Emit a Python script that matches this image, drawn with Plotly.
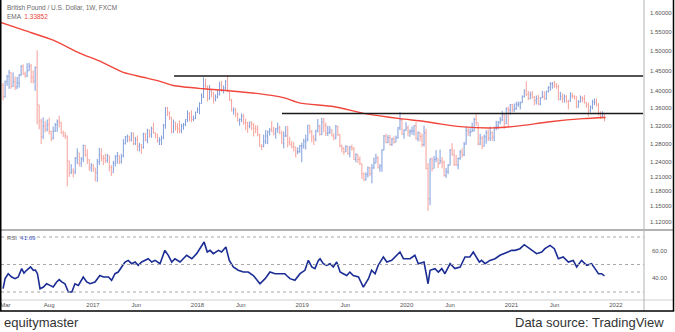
import pandas as pd
import plotly.graph_objects as go

# ---------------- data ----------------
first_week = "2016-02-22"
first_open = 1.414

# weekly (high, low, close)
hlc_2016 = [
    (1.420, 1.379, 1.387), (1.426, 1.385, 1.423), (1.440, 1.413, 1.436), (1.452, 1.406, 1.446),
    (1.443, 1.406, 1.412), (1.446, 1.411, 1.423), (1.436, 1.403, 1.411), (1.435, 1.405, 1.420),
    (1.442, 1.409, 1.440), (1.464, 1.437, 1.461), (1.466, 1.440, 1.443), (1.448, 1.433, 1.437),
    (1.469, 1.435, 1.450), (1.470, 1.453, 1.462), (1.467, 1.420, 1.434), (1.451, 1.419, 1.425),
    (1.461, 1.401, 1.458), (1.502, 1.323, 1.368), (1.354, 1.312, 1.330), (1.336, 1.279, 1.295),
    (1.339, 1.290, 1.319), (1.330, 1.305, 1.312), (1.334, 1.307, 1.322), (1.338, 1.300, 1.307),
    (1.309, 1.285, 1.292), (1.318, 1.289, 1.308), (1.326, 1.306, 1.323), (1.334, 1.306, 1.330),
    (1.343, 1.316, 1.327), (1.329, 1.302, 1.304), (1.309, 1.295, 1.297), (1.306, 1.290, 1.297),
    (1.298, 1.190, 1.243), (1.242, 1.209, 1.218), (1.236, 1.215, 1.222), (1.227, 1.208, 1.219),
    (1.251, 1.215, 1.249), (1.270, 1.236, 1.260), (1.254, 1.231, 1.238), (1.251, 1.230, 1.247),
    (1.278, 1.240, 1.276), (1.277, 1.252, 1.256), (1.268, 1.236, 1.245), (1.247, 1.222, 1.228),
    (1.238, 1.220, 1.234),
]
hlc_2017 = [
    (1.236, 1.220, 1.228), (1.228, 1.200, 1.218), (1.247, 1.199, 1.241), (1.271, 1.234, 1.255),
    (1.270, 1.242, 1.249), (1.255, 1.234, 1.248), (1.258, 1.238, 1.244), (1.258, 1.239, 1.254),
    (1.251, 1.221, 1.229), (1.234, 1.211, 1.218), (1.243, 1.219, 1.238), (1.255, 1.231, 1.252),
    (1.262, 1.237, 1.255), (1.253, 1.236, 1.241), (1.258, 1.237, 1.253), (1.290, 1.250, 1.280),
    (1.297, 1.278, 1.295), (1.300, 1.283, 1.297), (1.297, 1.284, 1.288), (1.305, 1.285, 1.304),
    (1.304, 1.277, 1.280), (1.295, 1.277, 1.289), (1.298, 1.264, 1.274), (1.282, 1.263, 1.278),
    (1.279, 1.258, 1.272), (1.304, 1.269, 1.302), (1.304, 1.285, 1.288), (1.313, 1.281, 1.310),
    (1.311, 1.293, 1.300), (1.318, 1.293, 1.313), (1.327, 1.302, 1.304), (1.305, 1.292, 1.301),
    (1.294, 1.282, 1.287), (1.294, 1.277, 1.288), (1.298, 1.277, 1.292), (1.324, 1.290, 1.321),
    (1.362, 1.313, 1.361), (1.363, 1.342, 1.349), (1.353, 1.333, 1.339), (1.340, 1.303, 1.306),
    (1.334, 1.304, 1.328), (1.327, 1.309, 1.318), (1.325, 1.303, 1.313), (1.332, 1.303, 1.308),
    (1.324, 1.303, 1.320), (1.326, 1.311, 1.322), (1.335, 1.319, 1.334), (1.355, 1.328, 1.348),
    (1.351, 1.330, 1.339), (1.355, 1.328, 1.334), (1.343, 1.330, 1.336), (1.352, 1.335, 1.351),
]
hlc_2018 = [
    (1.362, 1.349, 1.357), (1.374, 1.346, 1.371), (1.395, 1.370, 1.386), (1.434, 1.384, 1.415),
    (1.430, 1.406, 1.413), (1.413, 1.376, 1.383), (1.415, 1.380, 1.401), (1.404, 1.386, 1.397),
    (1.398, 1.371, 1.381), (1.393, 1.376, 1.386), (1.404, 1.383, 1.393), (1.423, 1.390, 1.415),
    (1.425, 1.399, 1.401), (1.414, 1.395, 1.408), (1.427, 1.404, 1.424), (1.438, 1.398, 1.401),
    (1.404, 1.377, 1.378), (1.382, 1.353, 1.354), (1.362, 1.345, 1.356), (1.361, 1.339, 1.347),
    (1.350, 1.330, 1.331), (1.337, 1.320, 1.334), (1.348, 1.328, 1.342), (1.347, 1.322, 1.327),
    (1.336, 1.310, 1.327), (1.329, 1.304, 1.319), (1.329, 1.314, 1.328), (1.330, 1.310, 1.323),
    (1.326, 1.296, 1.314), (1.321, 1.303, 1.312), (1.321, 1.296, 1.300), (1.302, 1.273, 1.275),
    (1.279, 1.266, 1.274), (1.300, 1.272, 1.285), (1.310, 1.279, 1.297), (1.309, 1.279, 1.307),
    (1.315, 1.298, 1.311), (1.330, 1.306, 1.308), (1.318, 1.298, 1.303), (1.315, 1.291, 1.313),
    (1.327, 1.304, 1.315), (1.320, 1.301, 1.303), (1.309, 1.280, 1.281), (1.307, 1.270, 1.297),
    (1.319, 1.295, 1.297), (1.320, 1.272, 1.283), (1.295, 1.276, 1.279), (1.286, 1.270, 1.273),
    (1.284, 1.263, 1.273), (1.265, 1.250, 1.262), (1.272, 1.257, 1.263), (1.277, 1.260, 1.275),
    (1.282, 1.240, 1.275),
]
hlc_2019 = [
    (1.291, 1.269, 1.284), (1.300, 1.267, 1.288), (1.322, 1.285, 1.321), (1.321, 1.302, 1.307),
    (1.310, 1.283, 1.294), (1.299, 1.277, 1.289), (1.311, 1.285, 1.308), (1.335, 1.305, 1.319),
    (1.322, 1.298, 1.300), (1.338, 1.299, 1.328), (1.338, 1.305, 1.321), (1.327, 1.297, 1.303),
    (1.320, 1.297, 1.305), (1.319, 1.301, 1.310), (1.312, 1.296, 1.297), (1.303, 1.287, 1.292),
    (1.322, 1.290, 1.318), (1.320, 1.297, 1.300), (1.301, 1.272, 1.275), (1.278, 1.261, 1.270),
    (1.272, 1.256, 1.262), (1.277, 1.262, 1.274), (1.275, 1.256, 1.259), (1.275, 1.250, 1.273),
    (1.278, 1.265, 1.269), (1.273, 1.245, 1.246), (1.259, 1.240, 1.257), (1.256, 1.238, 1.246),
    (1.252, 1.234, 1.237), (1.237, 1.205, 1.216), (1.218, 1.201, 1.203), (1.219, 1.202, 1.214),
    (1.231, 1.208, 1.228), (1.230, 1.211, 1.216), (1.236, 1.196, 1.228), (1.250, 1.226, 1.238),
    (1.258, 1.240, 1.249), (1.253, 1.227, 1.228), (1.236, 1.220, 1.232), (1.268, 1.220, 1.266),
    (1.299, 1.269, 1.297), (1.302, 1.281, 1.283), (1.299, 1.281, 1.293), (1.299, 1.276, 1.278),
    (1.293, 1.275, 1.290), (1.296, 1.280, 1.283), (1.298, 1.283, 1.293), (1.317, 1.291, 1.315),
    (1.351, 1.310, 1.333), (1.337, 1.300, 1.301), (1.312, 1.291, 1.310), (1.328, 1.308, 1.315),
]
hlc_2020 = [
    (1.320, 1.296, 1.306), (1.312, 1.295, 1.308), (1.318, 1.300, 1.308), (1.321, 1.298, 1.320),
    (1.328, 1.289, 1.291), (1.307, 1.285, 1.305), (1.304, 1.285, 1.296), (1.302, 1.273, 1.278),
    (1.320, 1.274, 1.304), (1.313, 1.225, 1.227), (1.238, 1.141, 1.165), (1.248, 1.152, 1.247),
    (1.250, 1.221, 1.227), (1.253, 1.227, 1.246), (1.266, 1.240, 1.248), (1.244, 1.228, 1.237),
    (1.267, 1.239, 1.243), (1.251, 1.227, 1.240), (1.243, 1.210, 1.212), (1.228, 1.207, 1.220),
    (1.236, 1.215, 1.234), (1.268, 1.233, 1.266), (1.281, 1.254, 1.256), (1.268, 1.232, 1.235),
    (1.256, 1.233, 1.234), (1.250, 1.225, 1.248), (1.266, 1.245, 1.262), (1.270, 1.250, 1.256),
    (1.284, 1.253, 1.279), (1.317, 1.278, 1.309), (1.315, 1.297, 1.305), (1.314, 1.296, 1.306),
    (1.327, 1.307, 1.309), (1.338, 1.307, 1.334), (1.348, 1.320, 1.327), (1.327, 1.276, 1.279),
    (1.302, 1.277, 1.292), (1.297, 1.268, 1.274), (1.300, 1.276, 1.295), (1.310, 1.280, 1.304),
    (1.311, 1.286, 1.292), (1.318, 1.286, 1.304), (1.307, 1.286, 1.294), (1.318, 1.285, 1.315),
    (1.331, 1.310, 1.319), (1.331, 1.312, 1.328), (1.340, 1.323, 1.333), (1.354, 1.330, 1.344),
    (1.348, 1.313, 1.324), (1.362, 1.324, 1.359), (1.364, 1.319, 1.356), (1.370, 1.345, 1.368),
]
hlc_2021 = [
    (1.370, 1.351, 1.357), (1.371, 1.351, 1.359), (1.375, 1.356, 1.369), (1.376, 1.363, 1.370),
    (1.376, 1.357, 1.373), (1.390, 1.372, 1.388), (1.405, 1.385, 1.401), (1.424, 1.389, 1.393),
    (1.401, 1.379, 1.383), (1.399, 1.381, 1.392), (1.401, 1.383, 1.386), (1.389, 1.367, 1.378),
    (1.390, 1.369, 1.383), (1.392, 1.367, 1.370), (1.386, 1.367, 1.384), (1.401, 1.384, 1.387),
    (1.400, 1.380, 1.382), (1.401, 1.380, 1.400), (1.412, 1.397, 1.409), (1.422, 1.401, 1.418),
    (1.422, 1.406, 1.420), (1.425, 1.408, 1.415), (1.420, 1.406, 1.411), (1.416, 1.379, 1.380),
    (1.399, 1.379, 1.388), (1.395, 1.373, 1.383), (1.393, 1.373, 1.388), (1.391, 1.373, 1.376),
    (1.380, 1.357, 1.376), (1.398, 1.375, 1.389), (1.396, 1.383, 1.388), (1.391, 1.380, 1.387),
    (1.388, 1.360, 1.362), (1.379, 1.362, 1.375), (1.390, 1.373, 1.384), (1.388, 1.374, 1.383),
    (1.391, 1.371, 1.373), (1.375, 1.361, 1.368), (1.373, 1.341, 1.354), (1.367, 1.350, 1.362),
    (1.380, 1.357, 1.374), (1.383, 1.367, 1.375), (1.383, 1.364, 1.368), (1.372, 1.343, 1.349),
    (1.353, 1.335, 1.341), (1.353, 1.339, 1.345), (1.346, 1.330, 1.333),
]

ema_dates = ["2016-02-11", "2016-05-09", "2016-08-15", "2016-11-17", "2017-01-25", "2017-04-17",
             "2017-06-26", "2017-08-23", "2017-10-08", "2018-01-21", "2018-04-24", "2018-07-27",
             "2018-10-28", "2018-12-25", "2019-04-20", "2019-08-15", "2019-12-09", "2020-02-28",
             "2020-04-27", "2020-07-06", "2020-10-30", "2021-01-20", "2021-05-16", "2021-09-09",
             "2021-11-26"]
ema_values = [1.576, 1.553, 1.528, 1.494, 1.474, 1.446, 1.434, 1.424, 1.414, 1.406, 1.401, 1.395,
              1.385, 1.372, 1.364, 1.347, 1.336, 1.330, 1.324, 1.318, 1.315, 1.319, 1.329, 1.336,
              1.3385]

rsi_dates = [
    "2016-02-22", "2016-02-29", "2016-03-11", "2016-03-23", "2016-04-04", "2016-04-15", "2016-04-27",
    "2016-05-05", "2016-05-14", "2016-05-28", "2016-06-07", "2016-06-14", "2016-06-21", "2016-06-30",
    "2016-07-12", "2016-07-23", "2016-08-04", "2016-08-15", "2016-08-27", "2016-09-05", "2016-09-14",
    "2016-09-25", "2016-10-07", "2016-10-19", "2016-10-30", "2016-11-11", "2016-11-28", "2016-12-10",
    "2016-12-22", "2017-01-08", "2017-01-25", "2017-02-06", "2017-02-24", "2017-03-07", "2017-03-19",
    "2017-03-30", "2017-04-11", "2017-04-23", "2017-05-04", "2017-05-16", "2017-05-28", "2017-06-08",
    "2017-06-20", "2017-07-02", "2017-07-13", "2017-07-25", "2017-08-06", "2017-08-23", "2017-09-09",
    "2017-09-21", "2017-10-03", "2017-10-14", "2017-11-01", "2017-11-24", "2017-12-12", "2017-12-29",
    "2018-01-10", "2018-01-24", "2018-02-04", "2018-02-14", "2018-02-25", "2018-03-15", "2018-03-26",
    "2018-04-10", "2018-04-22", "2018-05-06", "2018-05-23", "2018-06-10", "2018-06-27", "2018-07-15",
    "2018-08-07", "2018-08-25", "2018-09-11", "2018-09-29", "2018-10-16", "2018-11-02", "2018-11-08",
    "2018-11-20", "2018-12-07", "2018-12-25", "2019-01-11", "2019-01-23", "2019-02-04", "2019-02-15",
    "2019-02-27", "2019-03-05", "2019-03-16", "2019-03-28", "2019-04-09", "2019-04-20", "2019-05-02",
    "2019-05-14", "2019-05-25", "2019-06-06", "2019-06-17", "2019-06-29", "2019-07-17", "2019-08-03",
    "2019-08-21", "2019-09-01", "2019-09-13", "2019-09-24", "2019-10-12", "2019-10-24", "2019-11-10",
    "2019-11-27", "2019-12-09", "2019-12-21", "2020-01-13", "2020-01-30", "2020-02-11", "2020-03-02",
    "2020-03-16", "2020-03-23", "2020-04-09", "2020-04-21", "2020-05-03", "2020-05-14", "2020-06-01",
    "2020-06-18", "2020-07-06", "2020-07-23", "2020-08-09", "2020-08-21", "2020-09-11", "2020-09-19",
    "2020-10-01", "2020-10-18", "2020-11-05", "2020-11-22", "2020-12-04", "2020-12-21", "2021-01-02",
    "2021-01-14", "2021-01-31", "2021-02-15", "2021-03-07", "2021-03-30", "2021-04-17", "2021-04-28",
    "2021-05-16", "2021-05-31", "2021-06-14", "2021-07-01", "2021-07-19", "2021-08-05", "2021-08-17",
    "2021-09-03", "2021-09-21", "2021-10-08", "2021-10-20", "2021-11-01", "2021-11-12", "2021-11-22",
]
rsi_values = [
    32.4, 39.7, 43.3, 40.9, 39.7, 40.9, 47.0,
    43.8, 45.8, 48.2, 45.8, 46.0, 43.3, 32.4,
    33.6, 36.0, 34.8, 33.6, 37.3, 39.0, 37.3,
    36.0, 30.0, 30.0, 36.0, 34.8, 40.9, 37.3,
    36.0, 37.3, 42.0, 40.9, 40.9, 38.5, 43.3,
    44.5, 48.2, 51.8, 53.0, 50.6, 51.8, 49.4,
    51.8, 53.0, 54.2, 51.8, 53.0, 50.6, 60.3,
    56.7, 51.8, 54.2, 51.8, 56.7, 54.2, 57.9,
    61.5, 66.4, 59.1, 60.3, 57.9, 60.3, 59.1,
    62.7, 53.0, 48.2, 45.8, 44.5, 44.5, 42.0,
    36.0, 39.7, 44.5, 43.3, 43.3, 43.3, 42.0,
    39.7, 38.5, 43.3, 45.8, 53.0, 48.2, 47.0,
    53.0, 54.2, 50.6, 49.4, 50.6, 48.2, 51.8,
    44.5, 43.3, 42.0, 44.5, 42.0, 40.9, 33.6,
    39.7, 45.8, 43.3, 49.4, 55.5, 51.8, 53.0,
    56.7, 59.1, 54.2, 54.2, 56.7, 50.6, 51.8,
    36.0, 45.8, 47.0, 44.5, 47.0, 43.3, 50.6,
    47.0, 48.2, 55.5, 55.5, 59.1, 51.8, 53.0,
    50.6, 53.0, 54.2, 56.7, 57.9, 59.1, 60.3,
    60.3, 61.5, 64.4, 61.5, 57.9, 59.1, 61.5,
    63.9, 61.5, 54.2, 55.5, 51.8, 53.0, 48.2,
    53.0, 49.4, 50.6, 47.0, 43.3, 43.3, 41.69,
]

level_values = [1.4372, 1.3479]
level_starts = ["2017-10-11", "2018-10-23"]
level_end = "2022-04-06"

price_ticks = [1.12, 1.15, 1.18, 1.21, 1.24, 1.28, 1.32, 1.36, 1.40, 1.45, 1.50, 1.55, 1.60]
price_ticktext = ["%.5f" % v for v in price_ticks]
rsi_ticks = [40, 60]
rsi_ticktext = ["40.00", "60.00"]
x_tickvals = ["2016-03-01", "2016-08-01", "2017-01-01", "2017-06-01", "2018-01-01", "2018-06-01",
              "2019-01-01", "2019-06-01", "2020-01-01", "2020-06-01", "2021-01-01", "2021-06-01",
              "2022-01-01"]
x_ticktext = ["Mar", "Aug", "2017", "Jun", "2018", "Jun", "2019", "Jun", "2020", "Jun", "2021",
              "Jun", "2022"]

# ---------------- build ----------------
hlc = hlc_2016 + hlc_2017 + hlc_2018 + hlc_2019 + hlc_2020 + hlc_2021
weeks = pd.date_range(first_week, periods=len(hlc), freq="7D")
closes = [c for (_, _, c) in hlc]
opens = [first_open] + closes[:-1]
highs = [max(h, o, c) for (h, _, c), o in zip(hlc, opens)]
lows = [min(l, o, c) for (_, l, c), o in zip(hlc, opens)]

W, H = 675, 332
def px(x):
    return x / W
def py(y):
    return 1 - y / H

FONT = "Liberation Sans, Arial, sans-serif"

fig = go.Figure()
fig.add_trace(go.Ohlc(
    x=weeks, open=opens, high=highs, low=lows, close=closes,
    increasing=dict(line=dict(color="#7f9ddb", width=1)),
    decreasing=dict(line=dict(color="#f5a19b", width=1)),
    tickwidth=0.35, xaxis="x", yaxis="y", showlegend=False, hoverinfo="skip",
))
fig.add_trace(go.Scatter(
    x=ema_dates, y=ema_values, mode="lines", line=dict(color="#f0463c", width=1.4, shape="spline", smoothing=0.6),
    xaxis="x", yaxis="y", showlegend=False, hoverinfo="skip",
))
for lv, st in zip(level_values, level_starts):
    fig.add_trace(go.Scatter(
        x=[st, level_end], y=[lv, lv], mode="lines", line=dict(color="#1a1a1a", width=1.5),
        xaxis="x", yaxis="y", showlegend=False, hoverinfo="skip",
    ))
fig.add_trace(go.Scatter(
    x=rsi_dates, y=rsi_values, mode="lines", line=dict(color="#1b2d94", width=1.6),
    xaxis="x", yaxis="y2", showlegend=False, hoverinfo="skip",
))

shapes = []
# RSI dotted levels
for lvl in (70, 50, 30):
    shapes.append(dict(type="line", xref="x domain", yref="y2", x0=0, x1=1, y0=lvl, y1=lvl,
                       line=dict(color="#a8a8a8", width=1, dash="dot")))
# separators
shapes.append(dict(type="line", xref="paper", yref="paper", x0=0, x1=px(673.5), y0=py(230), y1=py(230),
                   line=dict(color="#b3b3b3", width=2)))
shapes.append(dict(type="line", xref="paper", yref="paper", x0=0, x1=px(673.5), y0=py(300), y1=py(300),
                   line=dict(color="#cfcfcf", width=1)))
shapes.append(dict(type="line", xref="paper", yref="paper", x0=px(644), x1=px(644), y0=py(311), y1=1,
                   line=dict(color="#b3b3b3", width=1)))
# outer frame
shapes.append(dict(type="line", xref="paper", yref="paper", x0=px(0.75), x1=px(0.75), y0=py(311), y1=1,
                   line=dict(color="#000", width=1.5)))
shapes.append(dict(type="line", xref="paper", yref="paper", x0=px(673.5), x1=px(673.5), y0=py(311), y1=1,
                   line=dict(color="#000", width=1.5)))
shapes.append(dict(type="line", xref="paper", yref="paper", x0=0, x1=px(674.2), y0=py(311), y1=py(311),
                   line=dict(color="#000", width=1.5)))

annotations = [
    dict(xref="paper", yref="paper", x=px(5), y=py(7.5), xanchor="left", yanchor="middle", showarrow=False,
         text="British Pound / U.S. Dollar, 1W, FXCM", font=dict(family=FONT, size=6.5, color="#6a6a6a")),
    dict(xref="paper", yref="paper", x=px(5), y=py(17), xanchor="left", yanchor="middle", showarrow=False,
         text="EMA  <span style='color:#f0463c'>1.33852</span>", font=dict(family=FONT, size=6.5, color="#6a6a6a")),
    dict(xref="paper", yref="paper", x=px(5), y=py(237.5), xanchor="left", yanchor="middle", showarrow=False,
         text="RSI  <span style='color:#3b57c4'>41.69</span>", font=dict(family=FONT, size=6, color="#6a6a6a")),
    dict(xref="paper", yref="paper", x=px(2), y=py(322), xanchor="left", yanchor="middle", showarrow=False,
         text="equitymaster", font=dict(family=FONT, size=13, color="#333333")),
    dict(xref="paper", yref="paper", x=px(666), y=py(322), xanchor="right", yanchor="middle", showarrow=False,
         text="Data source: TradingView", font=dict(family=FONT, size=13, color="#333333")),
]

tickfont = dict(family=FONT, size=6, color="#555555")
fig.update_layout(
    width=W, height=H, margin=dict(l=0, r=0, t=0, b=0),
    paper_bgcolor="white", plot_bgcolor="white", showlegend=False,
    shapes=shapes, annotations=annotations,
    xaxis=dict(domain=[px(1), px(644)], range=["2016-02-14 18:00", "2022-04-09 02:00"], type="date",
               anchor="y2", tickvals=x_tickvals, ticktext=x_ticktext, tickfont=tickfont,
               showgrid=False, zeroline=False, showline=False, ticks="", rangeslider=dict(visible=False),
               automargin=False),
    yaxis=dict(domain=[py(229), py(1)], type="log", range=[0.043794, 0.213252], side="right", anchor="x",
               tickvals=price_ticks, ticktext=price_ticktext, tickfont=tickfont, showgrid=False,
               zeroline=False, showline=False, ticks="", ticklabelstandoff=5, automargin=False),
    yaxis2=dict(domain=[py(300), py(232)], range=[24.18, 73.64], side="right", anchor="x",
                tickvals=rsi_ticks, ticktext=rsi_ticktext, tickfont=tickfont, showgrid=False,
                zeroline=False, showline=False, ticks="", ticklabelstandoff=7, automargin=False),
)

fig.write_html("out.html")
